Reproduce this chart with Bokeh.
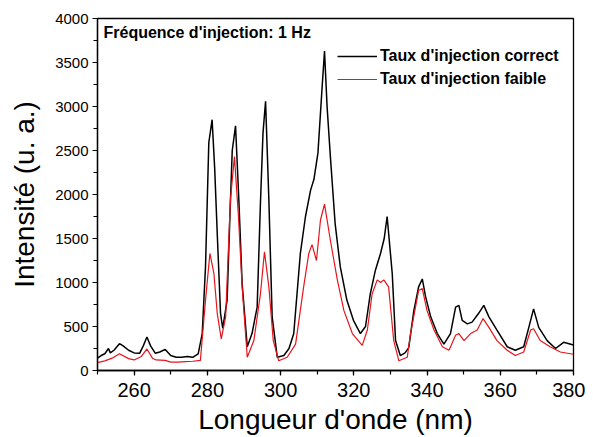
from bokeh.plotting import figure
from bokeh.models import Legend, LegendItem, Label, Range1d, SingleIntervalTicker
from bokeh.embed import file_html
from bokeh.resources import INLINE

# Black series: "Taux d'injection correct"
wl_correct = [250, 251, 252, 253, 253.5, 254.5, 256, 257, 258.5, 260, 261.5, 262.5, 263.5, 264.5,
              265.8, 267, 268.5, 270, 271.5, 273, 274.5, 276, 277.5, 278.6, 279.5, 280.4, 281.3,
              282, 282.7, 283.6, 284.2, 285.4, 286.2, 286.8, 287.7, 288.6, 289.5, 290.9, 292.2,
              293.6, 294.5, 295.2, 295.9, 296.8, 297.7, 299.1, 300.9, 302.3, 303.6, 305.4, 306.8,
              308.2, 309.1, 310.2, 311.3, 312, 312.7, 313.6, 314.9, 316.3, 318.1, 319.9, 321.8,
              323.2, 324.5, 325.9, 327.3, 328.3, 329.1, 330.5, 331.4, 332.7, 334, 335, 336.4,
              337.7, 338.7, 339.6, 341, 342.8, 344.6, 346.4, 347.8, 348.7, 349.6, 351, 352.3,
              354.1, 355.5, 356.9, 359.1, 361.9, 364.1, 366.4, 367.8, 369.1, 370.5, 372.8, 375.1,
              377.3, 380]
int_correct = [140, 170, 190, 250, 200, 230, 305, 280, 230, 200, 195, 280, 380, 280,
               195, 210, 240, 170, 150, 150, 160, 150, 190, 420, 1180, 2590, 2850,
               2300, 1560, 650, 480, 800, 1800, 2500, 2780, 1940, 990, 270, 420,
               720, 1900, 2700, 3060, 1940, 610, 150, 170, 250, 420, 1330, 1750,
               2050, 2170, 2470, 3190, 3630, 3000, 2430, 1670, 1180, 800, 570, 420,
               500, 870, 1140, 1330, 1500, 1750, 1100, 340, 170, 200, 260, 680,
               950, 1040, 840, 610, 420, 300, 420, 720, 740, 570, 530, 550,
               650, 740, 610, 460, 270, 230, 270, 490, 700, 490, 340, 250,
               320, 290]

# Red series: "Taux d'injection faible"
wl_faible = [250, 252, 254, 256, 258.5, 260, 262, 263.5, 265, 266, 268.5, 270, 272, 274, 276,
             278.1, 279.5, 280.7, 281.8, 282.7, 283.8, 285, 286.3, 287.4, 288.5, 289.5, 290.9,
             292.7, 294.5, 295.6, 296.8, 298, 299.5, 301.8, 304.1, 306.3, 307.7, 308.6, 309.8,
             310.9, 312, 313.6, 315.5, 317.3, 319.6, 322.3, 323.7, 325, 326.4, 327.3, 328.2,
             329.5, 330.9, 332.3, 334.6, 335.5, 337.7, 338.7, 340, 341.9, 344.2, 346, 347.8,
             348.7, 350.1, 351.9, 353.7, 355.3, 356.9, 359.1, 361.9, 364.1, 366.4, 368.3, 369.1,
             370.9, 373.6, 376.4, 380]
int_faible = [90, 110, 140, 190, 135, 120, 160, 245, 140, 120, 115, 95, 95, 100, 105,
              115, 800, 1330, 1100, 650, 360, 610, 1940, 2430, 1750, 950, 150,
              340, 870, 1350, 950, 340, 110, 150, 300, 950, 1330, 1430, 1250,
              1710, 1890, 1480, 1030, 680, 420, 285, 460, 870, 1030, 1000, 1030,
              950, 340, 110, 150, 420, 910, 930, 680, 460, 270, 230, 400,
              420, 340, 420, 460, 590, 490, 340, 230, 170, 210, 460, 475,
              340, 270, 210, 185]

series_labels = ["Taux d'injection correct", "Taux d'injection faible"]
annotation_text = "Fréquence d'injection: 1 Hz"
x_label = "Longueur d'onde (nm)"
y_label = "Intensité (u. a.)"

FONT = "Liberation Sans"

p = figure(frame_width=476, frame_height=352, output_backend="svg", toolbar_location=None,
           x_range=Range1d(250, 380), y_range=Range1d(0, 4000),
           min_border_left=97, min_border_top=18, min_border_right=12, min_border_bottom=60)
p.background_fill_color = "white"
p.border_fill_color = "white"
p.xgrid.visible = False
p.ygrid.visible = False
p.outline_line_color = "black"
p.outline_line_width = 1.3

r_black = p.line(wl_correct, int_correct, line_color="black", line_width=1.5)
r_red = p.line(wl_faible, int_faible, line_color="#e8141c", line_width=1.2)

p.xaxis.ticker = SingleIntervalTicker(interval=20, num_minor_ticks=2)
p.yaxis.ticker = SingleIntervalTicker(interval=500, num_minor_ticks=2)

for ax in (p.xaxis[0], p.yaxis[0]):
    ax.axis_line_color = "black"
    ax.axis_line_width = 1.3
    ax.major_tick_line_color = "black"
    ax.minor_tick_line_color = "black"
    ax.major_tick_line_width = 1.2
    ax.minor_tick_line_width = 1.2
    ax.major_tick_in = 0
    ax.minor_tick_in = 0
    ax.major_tick_out = 5
    ax.minor_tick_out = 4
    ax.major_label_text_font = FONT
    ax.axis_label_text_font = FONT
    ax.major_label_text_color = "black"
    ax.axis_label_text_color = "black"
    ax.axis_label_text_font_style = "normal"
    ax.axis_label_text_font_size = "28px"

p.xaxis.major_label_text_font_size = "20px"
p.yaxis.major_label_text_font_size = "15px"
p.xaxis.major_label_standoff = 7
p.yaxis.major_label_standoff = 4
p.xaxis.axis_label = x_label
p.yaxis.axis_label = y_label
p.xaxis.axis_label_standoff = 4
p.yaxis.axis_label_standoff = 12

legend = Legend(items=[LegendItem(label=series_labels[0], renderers=[r_black]),
                       LegendItem(label=series_labels[1], renderers=[r_red])],
                location=(240, 281), orientation="vertical",
                padding=0, margin=0, spacing=3, glyph_width=40, glyph_height=20,
                label_height=20, label_standoff=3,
                label_text_font=FONT, label_text_font_size="16px",
                label_text_font_style="bold", label_text_color="black",
                border_line_alpha=0, background_fill_alpha=0)
p.add_layout(legend, "center")

ann = Label(x=6, y=338, x_units="screen", y_units="screen", text=annotation_text,
            text_font=FONT, text_font_size="16px", text_font_style="bold",
            text_color="black", text_baseline="alphabetic")
p.add_layout(ann)

open("out.html", "w").write(file_html(p, INLINE))
